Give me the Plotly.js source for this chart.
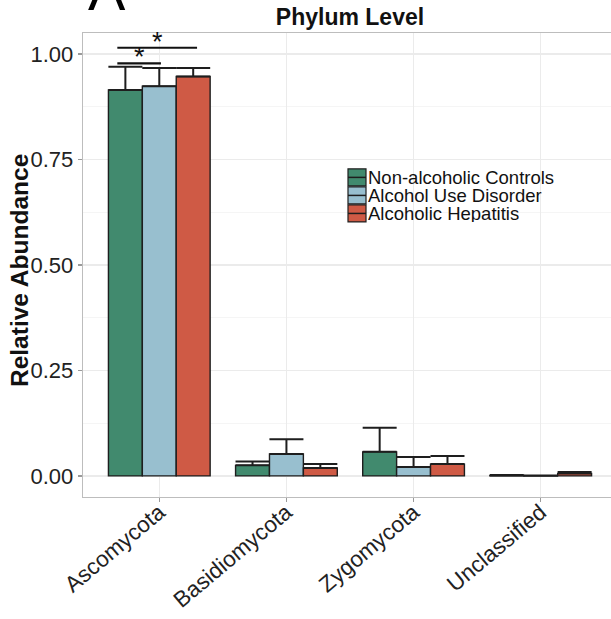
<!DOCTYPE html>
<html>
<head>
<meta charset="utf-8">
<script src="https://cdn.plot.ly/plotly-3.0.1.min.js"></script>
<style>html,body{margin:0;padding:0;overflow:hidden;background:#fff}#chart{width:625px;height:619px}</style>
</head>
<body>
<div id="chart"></div>
<script>
// ---- data ----
const categories = ["Ascomycota", "Basidiomycota", "Zygomycota", "Unclassified"];
const groups = ["Non-alcoholic Controls", "Alcohol Use Disorder", "Alcoholic Hepatitis"];
const controlsMean = [0.915, 0.025, 0.057, 0.001];
const controlsErr  = [0.055, 0.009, 0.057, 0.001];
const audMean      = [0.924, 0.052, 0.021, 0.0005];
const audErr       = [0.043, 0.035, 0.024, 0.0005];
const ahMean       = [0.947, 0.019, 0.028, 0.006];
const ahErr        = [0.020, 0.009, 0.019, 0.003];
const colors = ["#418A6E", "#98BFCF", "#CF5A45"];
const yTickVals = [0, 0.25, 0.5, 0.75, 1.0];
const yTickText = ["0.00", "0.25", "0.50", "0.75", "1.00"];
// significance brackets: [x start, x end, y level, label]
const sigX0 = [-0.33, -0.33];
const sigX1 = [0.013, 0.297];
const sigY  = [0.978, 1.015];
const sigLabel = ["*", "*"];

const FONT = "Liberation Sans, Arial, Helvetica, sans-serif";
const means = [controlsMean, audMean, ahMean];
const errs = [controlsErr, audErr, ahErr];

const traces = groups.map((g, i) => ({
  type: "bar",
  name: g,
  x: categories,
  y: means[i],
  marker: {color: colors[i], line: {color: "#1e1e1e", width: 1.4}},
  error_y: {type: "data", symmetric: false, array: errs[i], arrayminus: errs[i].map(() => 0),
            color: "#1e1e1e", thickness: 2, width: 17},
  showlegend: false,
  hoverinfo: "skip"
}));

// plot area geometry (pixels) for manual legend placement
const W = 625, H = 619, L = 83, R = 8, T = 33.3, B = 122.3;
const pw = W - L - R, ph = H - T - B;
const px = v => (v - L) / pw;
const py = v => (H - B - v) / ph;

const shapes = [];
const annotations = [];
sigX0.forEach((x0, i) => {
  shapes.push({type: "line", xref: "x", yref: "y", x0: x0, x1: sigX1[i], y0: sigY[i], y1: sigY[i],
               line: {color: "#111", width: 2.2}});
  annotations.push({xref: "x", yref: "y", x: (x0 + sigX1[i]) / 2, y: sigY[i], text: sigLabel[i],
                    showarrow: false, yanchor: "bottom", yshift: -11,
                    font: {family: FONT, size: 27, color: "#111"}});
});

// legend (ggplot style keys)
groups.forEach((g, i) => {
  const top = 169 + i * 18, bot = top + 17;
  shapes.push({type: "rect", xref: "paper", yref: "paper", x0: px(348), x1: px(366), y0: py(bot), y1: py(top),
               fillcolor: colors[i], line: {color: "#1e1e1e", width: 1.2}});
  shapes.push({type: "line", xref: "paper", yref: "paper", x0: px(348), x1: px(366), y0: py((top + bot) / 2), y1: py((top + bot) / 2),
               line: {color: "#1e1e1e", width: 1.5}});
  annotations.push({xref: "paper", yref: "paper", x: px(366), y: py((top + bot) / 2), xanchor: "left", yanchor: "middle",
                    text: g, showarrow: false, height: 17, valign: "middle",
                    font: {family: FONT, size: 18.5, color: "#111"}});
});

// y axis title
annotations.push({xref: "paper", yref: "paper", x: px(19), y: py(271), xanchor: "center", yanchor: "middle",
                  text: "<b>Relative Abundance</b>", textangle: -90, showarrow: false,
                  font: {family: FONT, size: 24.5, color: "#111"}});

// panel tag
annotations.push({xref: "paper", yref: "paper", x: px(107), y: py(-9), xanchor: "center", yanchor: "middle",
                  text: "A", showarrow: false, font: {family: FONT, size: 56, color: "#000"}});

const layout = {
  width: W, height: H,
  margin: {l: L, r: R, t: T, b: B, pad: 0},
  paper_bgcolor: "#fff", plot_bgcolor: "#fff",
  font: {family: FONT},
  title: {text: "<b>Phylum Level</b>", font: {family: FONT, size: 23, color: "#111"},
          x: 0.5, xref: "paper", xanchor: "center", y: 1 - 17 / H, yanchor: "middle"},
  barmode: "group", bargap: 0.2, bargroupgap: 0,
  xaxis: {
    type: "category", range: [-0.6, 3.6], tickangle: -40,
    tickfont: {family: FONT, size: 22.5, color: "#222"},
    ticklabelstandoff: -12,
    showgrid: true, gridcolor: "#EBEBEB", gridwidth: 1.2,
    showline: true, mirror: true, linecolor: "#BDBDBD", linewidth: 1.3,
    ticks: "outside", ticklen: 4, tickcolor: "#9A9A9A", tickwidth: 1.2,
    zeroline: false, fixedrange: true
  },
  yaxis: {
    range: [-0.05, 1.05], tickvals: yTickVals, ticktext: yTickText,
    tickfont: {family: FONT, size: 22, color: "#222"},
    showgrid: true, gridcolor: "#EBEBEB", gridwidth: 1.2,
    minor: {dtick: 0.125, tick0: 0, showgrid: true, gridcolor: "#F5F5F5", gridwidth: 1, ticks: ""},
    showline: true, mirror: true, linecolor: "#BDBDBD", linewidth: 1.3,
    ticks: "outside", ticklen: 4, tickcolor: "#9A9A9A", tickwidth: 1.2,
    zeroline: false, fixedrange: true
  },
  shapes: shapes,
  annotations: annotations
};

Plotly.newPlot("chart", traces, layout, {displayModeBar: false, staticPlot: true});
</script>
</body>
</html>
